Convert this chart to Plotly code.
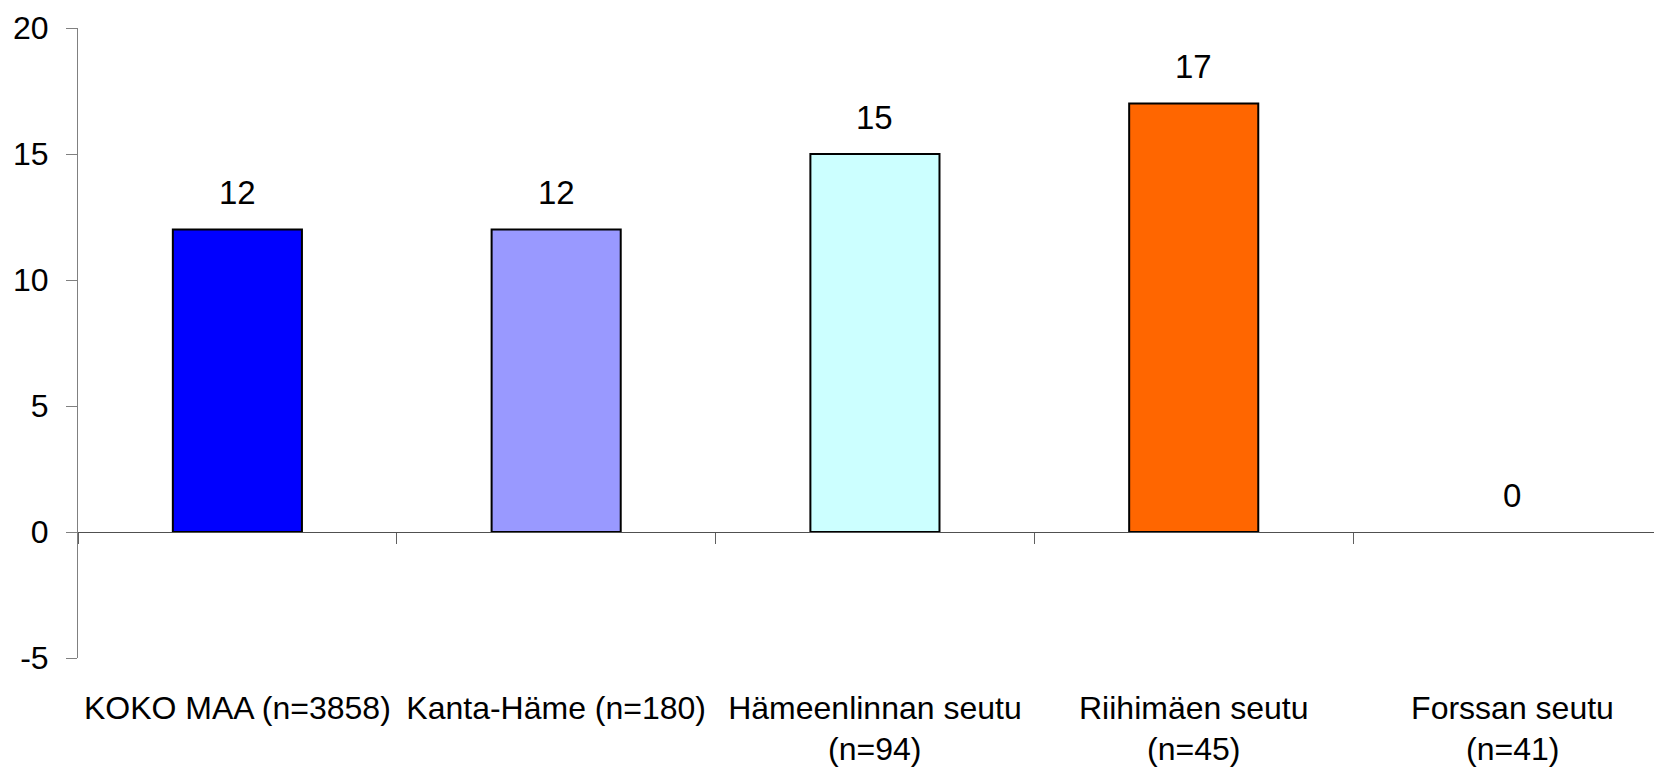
import plotly.graph_objects as go

categories = ["KOKO MAA (n=3858)", "Kanta-Häme (n=180)", "Hämeenlinnan seutu<br>(n=94)",
              "Riihimäen seutu<br>(n=45)", "Forssan seutu<br>(n=41)"]
values = [12, 12, 15, 17, 0]
colors = ["#0000FF", "#9999FF", "#CCFFFF", "#FF6600", "#FFFFFF"]
line_widths = [2, 2, 2, 2, 0]
y_ticks = [-5, 0, 5, 10, 15, 20]
y_ticktext = ["-5", "0", "5", "10", "15", "20"]

xpos = list(range(len(categories)))
FONT = "Liberation Sans, Arial, sans-serif"

first_lines = [c.split("<br>")[0] for c in categories]
second_lines = [c.split("<br>")[1] if "<br>" in c else "" for c in categories]

fig = go.Figure()
fig.add_trace(go.Bar(
    x=xpos, y=values,
    marker=dict(color=colors, line=dict(color="#000000", width=line_widths)),
    width=0.405, showlegend=False, hoverinfo="skip",
))
# helper trace so the boundary-tick axis at y=0 is drawn
fig.add_trace(go.Scatter(x=[None], y=[None], xaxis="x2", yaxis="y",
                         showlegend=False, hoverinfo="skip"))

for xi, v in zip(xpos, values):
    fig.add_annotation(x=xi, y=v, text=str(v), showarrow=False,
                       yanchor="middle", yshift=37,
                       font=dict(family=FONT, size=33, color="#000000"))

for xi, t in zip(xpos, second_lines):
    if t:
        fig.add_annotation(x=xi, xref="x", y=0, yref="paper", text=t,
                           showarrow=False, yanchor="middle", yshift=-91,
                           borderpad=0,
                           font=dict(family=FONT, size=32, color="#000000"))

xr = [-0.5, 4.469]
fig.update_layout(
    width=1654, height=763,
    margin=dict(l=70, r=0, t=20, b=113),
    paper_bgcolor="white", plot_bgcolor="white",
    font=dict(family=FONT, color="#000000"),
    xaxis=dict(range=xr, tickvals=xpos, ticktext=first_lines, showgrid=False,
               zeroline=False, showline=False, ticks="",
               tickfont=dict(size=32, family=FONT), ticklabelstandoff=28),
    xaxis2=dict(range=xr, overlaying="x", anchor="free", position=0.2,
                tickvals=[-0.5, 0.5, 1.5, 2.5, 3.5, 4.5], showticklabels=False,
                ticks="outside", ticklen=11, tickcolor="#606060", tickwidth=1,
                showline=True, linecolor="#505050", linewidth=1,
                showgrid=False, zeroline=False),
    yaxis=dict(range=[-5, 20], tickvals=y_ticks, ticktext=y_ticktext,
               showgrid=False, zeroline=False,
               showline=True, linecolor="#808080", linewidth=1,
               ticks="outside", ticklen=11, tickcolor="#808080",
               tickfont=dict(size=32, family=FONT), ticklabelstandoff=11),
)

fig.write_html("out.html")
